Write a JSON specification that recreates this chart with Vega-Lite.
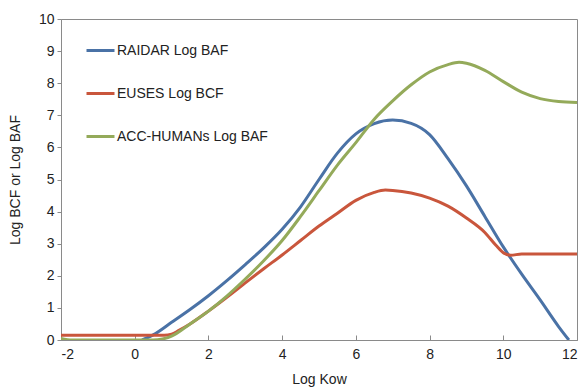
{
  "$schema": "https://vega.github.io/schema/vega-lite/v6.json",
  "width": 516,
  "height": 321,
  "autosize": {"type": "none"},
  "padding": {"left": 61, "top": 19, "right": 10, "bottom": 47},
  "background": "white",
  "config": {
    "font": "Liberation Sans",
    "view": {"stroke": "#8a8a8a", "strokeWidth": 1},
    "axis": {
      "grid": false,
      "domainColor": "#8a8a8a",
      "tickColor": "#8a8a8a",
      "labelColor": "#222222",
      "titleColor": "#222222",
      "labelFontSize": 14,
      "titleFontSize": 14,
      "titleFontWeight": "normal"
    }
  },
  "data": {
    "values": [
      {"x": 0.2, "y": 0, "series": "RAIDAR Log BAF"},
      {"x": 0.5, "y": 0.16, "series": "RAIDAR Log BAF"},
      {"x": 1.0, "y": 0.55, "series": "RAIDAR Log BAF"},
      {"x": 1.5, "y": 0.95, "series": "RAIDAR Log BAF"},
      {"x": 2.0, "y": 1.38, "series": "RAIDAR Log BAF"},
      {"x": 2.5, "y": 1.85, "series": "RAIDAR Log BAF"},
      {"x": 3.0, "y": 2.35, "series": "RAIDAR Log BAF"},
      {"x": 3.5, "y": 2.87, "series": "RAIDAR Log BAF"},
      {"x": 4.0, "y": 3.45, "series": "RAIDAR Log BAF"},
      {"x": 4.5, "y": 4.15, "series": "RAIDAR Log BAF"},
      {"x": 5.0, "y": 5.0, "series": "RAIDAR Log BAF"},
      {"x": 5.5, "y": 5.82, "series": "RAIDAR Log BAF"},
      {"x": 6.0, "y": 6.42, "series": "RAIDAR Log BAF"},
      {"x": 6.5, "y": 6.74, "series": "RAIDAR Log BAF"},
      {"x": 7.0, "y": 6.85, "series": "RAIDAR Log BAF"},
      {"x": 7.5, "y": 6.75, "series": "RAIDAR Log BAF"},
      {"x": 8.0, "y": 6.4, "series": "RAIDAR Log BAF"},
      {"x": 8.5, "y": 5.65, "series": "RAIDAR Log BAF"},
      {"x": 9.0, "y": 4.8, "series": "RAIDAR Log BAF"},
      {"x": 9.5, "y": 3.85, "series": "RAIDAR Log BAF"},
      {"x": 10.0, "y": 2.9, "series": "RAIDAR Log BAF"},
      {"x": 10.5, "y": 2.05, "series": "RAIDAR Log BAF"},
      {"x": 11.0, "y": 1.25, "series": "RAIDAR Log BAF"},
      {"x": 11.5, "y": 0.42, "series": "RAIDAR Log BAF"},
      {"x": 11.78, "y": 0, "series": "RAIDAR Log BAF"},
      {"x": -2.0, "y": 0.15, "series": "EUSES Log BCF"},
      {"x": 0.8, "y": 0.15, "series": "EUSES Log BCF"},
      {"x": 1.0, "y": 0.18, "series": "EUSES Log BCF"},
      {"x": 1.2, "y": 0.3, "series": "EUSES Log BCF"},
      {"x": 1.5, "y": 0.5, "series": "EUSES Log BCF"},
      {"x": 2.0, "y": 0.9, "series": "EUSES Log BCF"},
      {"x": 2.5, "y": 1.33, "series": "EUSES Log BCF"},
      {"x": 3.0, "y": 1.78, "series": "EUSES Log BCF"},
      {"x": 3.5, "y": 2.22, "series": "EUSES Log BCF"},
      {"x": 4.0, "y": 2.65, "series": "EUSES Log BCF"},
      {"x": 4.5, "y": 3.1, "series": "EUSES Log BCF"},
      {"x": 5.0, "y": 3.55, "series": "EUSES Log BCF"},
      {"x": 5.5, "y": 3.95, "series": "EUSES Log BCF"},
      {"x": 6.0, "y": 4.35, "series": "EUSES Log BCF"},
      {"x": 6.5, "y": 4.6, "series": "EUSES Log BCF"},
      {"x": 6.8, "y": 4.67, "series": "EUSES Log BCF"},
      {"x": 7.0, "y": 4.66, "series": "EUSES Log BCF"},
      {"x": 7.5, "y": 4.58, "series": "EUSES Log BCF"},
      {"x": 8.0, "y": 4.42, "series": "EUSES Log BCF"},
      {"x": 8.5, "y": 4.17, "series": "EUSES Log BCF"},
      {"x": 9.0, "y": 3.8, "series": "EUSES Log BCF"},
      {"x": 9.5, "y": 3.35, "series": "EUSES Log BCF"},
      {"x": 9.8, "y": 2.95, "series": "EUSES Log BCF"},
      {"x": 10.0, "y": 2.72, "series": "EUSES Log BCF"},
      {"x": 10.2, "y": 2.64, "series": "EUSES Log BCF"},
      {"x": 10.5, "y": 2.68, "series": "EUSES Log BCF"},
      {"x": 12.0, "y": 2.68, "series": "EUSES Log BCF"},
      {"x": -2.0, "y": 0.05, "series": "ACC-HUMANs Log BAF"},
      {"x": -1.7, "y": 0, "series": "ACC-HUMANs Log BAF"},
      {"x": 0.5, "y": 0, "series": "ACC-HUMANs Log BAF"},
      {"x": 1.0, "y": 0.12, "series": "ACC-HUMANs Log BAF"},
      {"x": 1.5, "y": 0.5, "series": "ACC-HUMANs Log BAF"},
      {"x": 2.0, "y": 0.9, "series": "ACC-HUMANs Log BAF"},
      {"x": 2.5, "y": 1.37, "series": "ACC-HUMANs Log BAF"},
      {"x": 3.0, "y": 1.9, "series": "ACC-HUMANs Log BAF"},
      {"x": 3.5, "y": 2.47, "series": "ACC-HUMANs Log BAF"},
      {"x": 4.0, "y": 3.1, "series": "ACC-HUMANs Log BAF"},
      {"x": 4.5, "y": 3.85, "series": "ACC-HUMANs Log BAF"},
      {"x": 5.0, "y": 4.65, "series": "ACC-HUMANs Log BAF"},
      {"x": 5.5, "y": 5.45, "series": "ACC-HUMANs Log BAF"},
      {"x": 6.0, "y": 6.15, "series": "ACC-HUMANs Log BAF"},
      {"x": 6.5, "y": 6.88, "series": "ACC-HUMANs Log BAF"},
      {"x": 7.0, "y": 7.45, "series": "ACC-HUMANs Log BAF"},
      {"x": 7.5, "y": 7.95, "series": "ACC-HUMANs Log BAF"},
      {"x": 8.0, "y": 8.35, "series": "ACC-HUMANs Log BAF"},
      {"x": 8.5, "y": 8.58, "series": "ACC-HUMANs Log BAF"},
      {"x": 8.8, "y": 8.65, "series": "ACC-HUMANs Log BAF"},
      {"x": 9.0, "y": 8.62, "series": "ACC-HUMANs Log BAF"},
      {"x": 9.5, "y": 8.4, "series": "ACC-HUMANs Log BAF"},
      {"x": 10.0, "y": 8.05, "series": "ACC-HUMANs Log BAF"},
      {"x": 10.5, "y": 7.72, "series": "ACC-HUMANs Log BAF"},
      {"x": 11.0, "y": 7.52, "series": "ACC-HUMANs Log BAF"},
      {"x": 11.5, "y": 7.43, "series": "ACC-HUMANs Log BAF"},
      {"x": 12.0, "y": 7.4, "series": "ACC-HUMANs Log BAF"}
    ]
  },
  "mark": {"type": "line", "interpolate": "monotone", "strokeWidth": 3, "clip": true},
  "encoding": {
    "x": {
      "field": "x",
      "type": "quantitative",
      "scale": {"domain": [-2, 12], "nice": false, "zero": false},
      "axis": {"values": [-2, 0, 2, 4, 6, 8, 10, 12], "labelExpr": "'' + datum.value", "title": "Log Kow", "tickSize": -5, "labelPadding": 12, "titlePadding": 11}
    },
    "y": {
      "field": "y",
      "type": "quantitative",
      "scale": {"domain": [0, 10], "nice": false},
      "axis": {"values": [0, 1, 2, 3, 4, 5, 6, 7, 8, 9, 10], "title": "Log BCF or Log BAF", "tickSize": 4, "labelPadding": 3, "titlePadding": 16}
    },
    "color": {
      "field": "series",
      "type": "nominal",
      "scale": {
        "domain": ["RAIDAR Log BAF", "EUSES Log BCF", "ACC-HUMANs Log BAF"],
        "range": ["#4A72A6", "#C9563C", "#94AA5A"]
      },
      "legend": {
        "orient": "none",
        "legendX": 24,
        "legendY": 16,
        "title": null,
        "symbolType": "stroke",
        "symbolSize": 784,
        "symbolStrokeWidth": 3,
        "labelFontSize": 14,
        "labelColor": "#222222",
        "labelOffset": 1,
        "rowPadding": 20
      }
    }
  }
}
